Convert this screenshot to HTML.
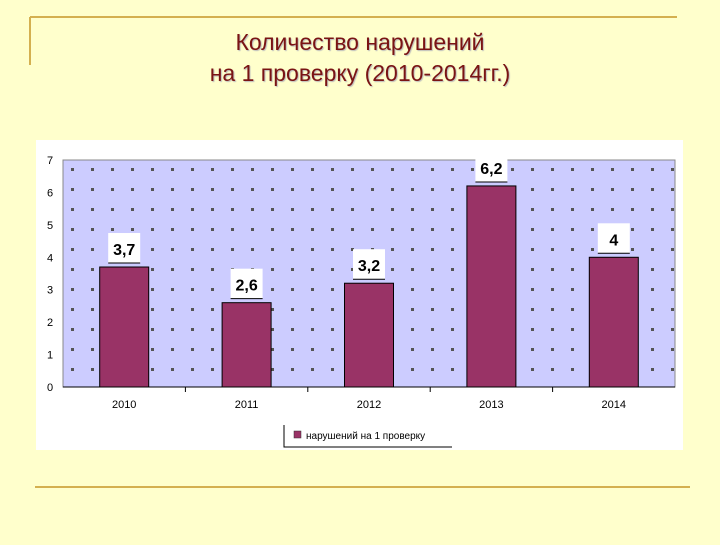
<!DOCTYPE html>
<html><head><meta charset="utf-8"><style>
body{margin:0;width:720px;height:540px;background:#FFFFCC;overflow:hidden;font-family:"Liberation Sans",sans-serif;}
</style></head><body>
<svg width="720" height="540" xmlns="http://www.w3.org/2000/svg">
<defs>
<pattern id="dots" x="63" y="160" width="20" height="20" patternUnits="userSpaceOnUse">
<rect width="20" height="20" fill="#CCCCFF"/>
<rect x="8" y="8" width="3" height="3" fill="#555"/>
</pattern>
</defs>
<line x1="30" y1="17" x2="677" y2="17" stroke="#D4B050" stroke-width="2"/>
<line x1="30" y1="17" x2="30" y2="65" stroke="#D4B050" stroke-width="2"/>
<line x1="35" y1="487" x2="690" y2="487" stroke="#D4B050" stroke-width="2"/>
<g font-size="23" fill="#7A1414" text-anchor="middle" style="text-shadow:1px 1px 1px #bbb">
<text x="360" y="50">Количество нарушений</text>
<text x="360" y="81">на 1 проверку (2010-2014гг.)</text>
</g>
<rect x="36" y="140" width="647" height="310" fill="#fff"/>
<rect x="63" y="160" width="612" height="227" fill="url(#dots)" stroke="#888"/>
<g id="yaxis"></g>
<g id="bars"></g>
<g id="xaxis"></g>
<g>
<polyline points="284,425 284,447 452,447" fill="none" stroke="#000"/>
<rect x="294" y="431" width="7" height="7" fill="#993366" stroke="#333" stroke-width="0.5"/>
<text x="306" y="439" font-size="10" fill="#000">нарушений на 1 проверку</text>
</g>
</svg>
<script>
const categories=["2010","2011","2012","2013","2014"];
const values=[3.7,2.6,3.2,6.2,4];
const valueLabels=["3,7","2,6","3,2","6,2","4"];
const yTicks=[0,1,2,3,4,5,6,7];
const NS="http://www.w3.org/2000/svg";
const X0=63,W=612,Y0=387,H=227,YMAX=7;
const band=W/categories.length;
const y=v=>Y0-v/YMAX*H;
const xc=i=>X0+band*(i+0.5);
function mk(tag,a,parent){const e=document.createElementNS(NS,tag);for(const k in a)e.setAttribute(k,a[k]);parent.appendChild(e);return e;}
const ya=document.getElementById('yaxis'),ba=document.getElementById('bars'),xa=document.getElementById('xaxis');
yTicks.forEach(t=>{
 const tx=mk('text',{x:50,y:y(t)+4,'font-size':11,'text-anchor':'middle',fill:'#000'},ya);
 tx.textContent=t;
 
 
});
mk('line',{x1:X0,y1:Y0,x2:X0+W,y2:Y0,stroke:'#000'},xa);
categories.forEach((c,i)=>{
 if(i>0){const tk=mk('line',{x1:X0+band*i,y1:Y0,x2:X0+band*i,y2:Y0+5,stroke:'#000'},xa);
 
 }
 const t=mk('text',{x:xc(i),y:408,'font-size':11,'text-anchor':'middle',fill:'#000'},xa);
 t.textContent=c;
 
 
 const bw=49;
 const r=mk('rect',{x:xc(i)-bw/2,y:y(values[i]),width:bw,height:Y0-y(values[i]),fill:'#993366',stroke:'#000','stroke-width':1},ba);
 
 
 const ly=y(values[i])-4;
 const bg=mk('rect',{x:xc(i)-16,y:ly-30,width:32,height:30,fill:'#fff'},ba);
 
 
 mk('line',{x1:xc(i)-16,y1:ly,x2:xc(i)+16,y2:ly,stroke:'#000'},ba);
 const lt=mk('text',{x:xc(i),y:ly-8,'font-size':16,'font-weight':'bold','text-anchor':'middle',fill:'#000'},ba);
 lt.textContent=valueLabels[i];
 
 
});
</script>
</body></html>
